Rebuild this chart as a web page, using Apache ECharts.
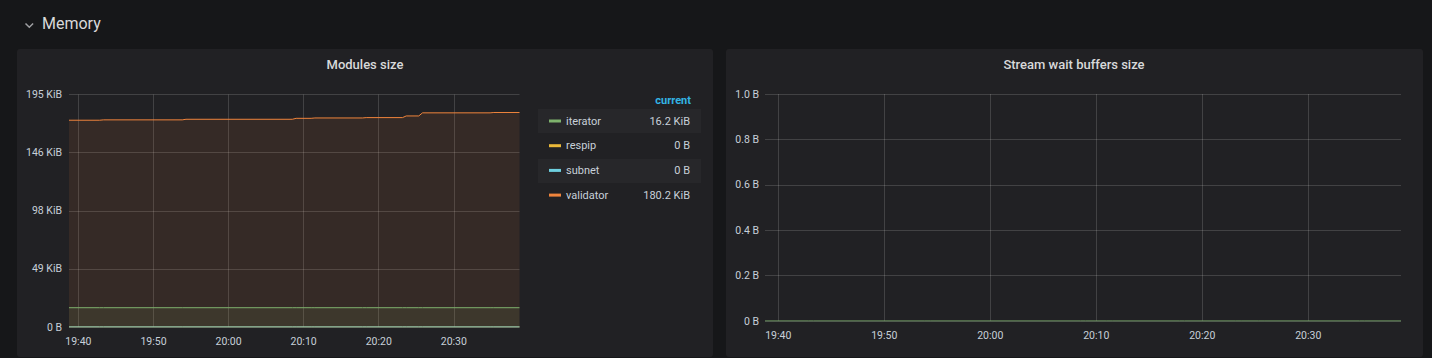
<!DOCTYPE html>
<html>
<head>
<meta charset="utf-8">
<script src="https://cdn.jsdelivr.net/npm/echarts@6/dist/echarts.min.js"></script>
<style>
  html, body { margin: 0; padding: 0; background: #161719; }
  #chart { width: 1432px; height: 358px; }
</style>
</head>
<body>
<div id="chart"></div>
<script>
// ---- data ----
const times = ['19:38:45','19:42:50','19:43:20','19:53:50','19:54:20','20:08:30','20:09:00','20:11:00','20:11:30','20:17:50','20:18:20','20:23:10','20:23:40','20:25:20','20:25:50','20:34:50','20:35:20','20:38:45'];
const iterator  = [16.2,16.2,16.2,16.2,16.2,16.2,16.2,16.2,16.2,16.2,16.2,16.2,16.2,16.2,16.2,16.2,16.2,16.2];
const respip    = [0,0,0,0,0,0,0,0,0,0,0,0,0,0,0,0,0,0];
const subnet    = [0,0,0,0,0,0,0,0,0,0,0,0,0,0,0,0,0,0];
const validator = [173.7,173.7,174.0,174.0,174.5,174.5,175.3,175.3,175.6,175.6,175.9,175.9,177.3,177.3,179.9,179.9,180.2,180.2];
const streamBuffers = [0,0,0,0,0,0,0,0,0,0,0,0,0,0,0,0,0,0];
const seriesNames = ['iterator','respip','subnet','validator'];
const xTickLabels = ['19:40','19:50','20:00','20:10','20:20','20:30'];
const xRange = ['19:38:45','20:38:45'];
const modulesYMaxKiB = 200000 / 1024;
const modulesYStepKiB = 50000 / 1024;

// ---- helpers ----
function toMin(t) {
  const p = t.split(':').map(Number);
  return p[0] * 60 + p[1] + (p[2] || 0) / 60;
}
function minToLabel(m) {
  const r = Math.round(m);
  const h = Math.floor(r / 60), mm = r % 60;
  return String(h).padStart(2, '0') + ':' + String(mm).padStart(2, '0');
}
function fmtKiB(v) { return v === 0 ? '0 B' : v.toFixed(1) + ' KiB'; }

const colors = { iterator: '#7EB26D', respip: '#EAB839', subnet: '#6ED0E0', validator: '#EF843C' };
const seriesData = { iterator, respip, subnet, validator };
const FONT = 'Roboto';
const labelColor = '#c7d0d9';
const gridColor = 'rgba(255,255,255,0.15)';

const xTickVals = xTickLabels.map(toMin);

function xAxisFor(gridIndex) {
  return {
    type: 'value', gridIndex,
    min: toMin(xRange[0]), max: toMin(xRange[1]),
    axisLine: { show: false },
    axisTick: { show: false, customValues: xTickVals },
    axisLabel: { customValues: xTickVals, formatter: v => minToLabel(v), color: labelColor,
                 fontFamily: FONT, fontSize: 10.5, margin: 9 },
    splitLine: { show: true, lineStyle: { color: gridColor, width: 1 } }
  };
}

const chart = echarts.init(document.getElementById('chart'), null, { renderer: 'svg' });

const leftSeries = seriesNames.map(n => ({
  name: n, type: 'line', xAxisIndex: 0, yAxisIndex: 0,
  data: times.map((t, i) => [toMin(t), seriesData[n][i]]),
  symbol: 'none', showSymbol: false,
  lineStyle: { color: colors[n], width: 1 },
  itemStyle: { color: colors[n] },
  areaStyle: { color: colors[n], opacity: 0.1 },
  animation: false
}));

const rightSeries = [{
  name: 'buffers', type: 'line', xAxisIndex: 1, yAxisIndex: 1,
  data: times.map((t, i) => [toMin(t), streamBuffers[i]]),
  symbol: 'none', showSymbol: false,
  lineStyle: { color: '#7EB26D', width: 1 },
  areaStyle: { color: '#7EB26D', opacity: 0.1 },
  animation: false
}];

const option = {
  backgroundColor: '#161719',
  animation: false,
  textStyle: { fontFamily: FONT },
  graphic: [
    { type: 'rect', shape: { x: 17, y: 49, width: 696, height: 308, r: 3 }, style: { fill: '#212124' }, z: -10 },
    { type: 'rect', shape: { x: 726, y: 49, width: 697, height: 308, r: 3 }, style: { fill: '#212124' }, z: -10 },
    { type: 'polyline', shape: { points: [[25.5, 23.5], [29.3, 27.3], [33.1, 23.5]] },
      style: { stroke: '#9fa0a3', lineWidth: 1.5, fill: null }, z: 10 },
    { type: 'text', x: 42, y: 23, style: { text: 'Memory', fill: '#d8d9da', font: '400 16px Roboto',
      textAlign: 'left', textVerticalAlign: 'middle' }, z: 10 },
    { type: 'text', x: 365, y: 64, style: { text: 'Modules size', fill: '#d8d9da', font: '500 13px Roboto',
      textAlign: 'center', textVerticalAlign: 'middle' }, z: 10 },
    { type: 'text', x: 1074, y: 64, style: { text: 'Stream wait buffers size', fill: '#d8d9da', font: '500 13px Roboto',
      textAlign: 'center', textVerticalAlign: 'middle' }, z: 10 },
    { type: 'rect', shape: { x: 538, y: 109, width: 163, height: 24 }, style: { fill: '#27272a' }, z: -5 },
    { type: 'rect', shape: { x: 538, y: 159, width: 163, height: 24 }, style: { fill: '#27272a' }, z: -5 },
    { type: 'text', x: 691, y: 100, style: { text: 'current', fill: '#33b5e5', font: '700 11px Roboto',
      textAlign: 'right', textVerticalAlign: 'middle' }, z: 10 }
  ],
  legend: {
    data: seriesNames,
    orient: 'vertical', left: 544, top: 109,
    itemWidth: 12, itemHeight: 3, itemGap: 10.7,
    icon: 'rect', selectedMode: false,
    formatter: name => '{n|' + name + '}{v|' + fmtKiB(seriesData[name][seriesData[name].length - 1]) + '}',
    textStyle: {
      color: labelColor, fontFamily: FONT, fontSize: 11, lineHeight: 14,
      rich: {
        n: { width: 60, align: 'left', color: labelColor, fontFamily: FONT, fontSize: 11, lineHeight: 14 },
        v: { width: 64, align: 'right', color: labelColor, fontFamily: FONT, fontSize: 11, lineHeight: 14 }
      }
    }
  },
  grid: [
    { left: 69, top: 94.5, width: 450.5, height: 232.5, containLabel: false },
    { left: 765, top: 94, width: 636, height: 227, containLabel: false }
  ],
  xAxis: [xAxisFor(0), xAxisFor(1)],
  yAxis: [
    {
      type: 'value', gridIndex: 0, min: 0, max: modulesYMaxKiB, interval: modulesYStepKiB,
      axisLine: { show: false }, axisTick: { show: false },
      axisLabel: { formatter: v => v === 0 ? '0 B' : Math.round(v) + ' KiB', color: labelColor,
                   fontFamily: FONT, fontSize: 10.5, margin: 7 },
      splitLine: { show: true, lineStyle: { color: gridColor, width: 1 } }
    },
    {
      type: 'value', gridIndex: 1, min: 0, max: 1, interval: 0.2,
      axisLine: { show: false }, axisTick: { show: false },
      axisLabel: { formatter: v => v === 0 ? '0 B' : v.toFixed(1) + ' B', color: labelColor,
                   fontFamily: FONT, fontSize: 10.5, margin: 6 },
      splitLine: { show: true, lineStyle: { color: gridColor, width: 1 } }
    }
  ],
  series: leftSeries.concat(rightSeries)
};
chart.setOption(option);
</script>
</body>
</html>
